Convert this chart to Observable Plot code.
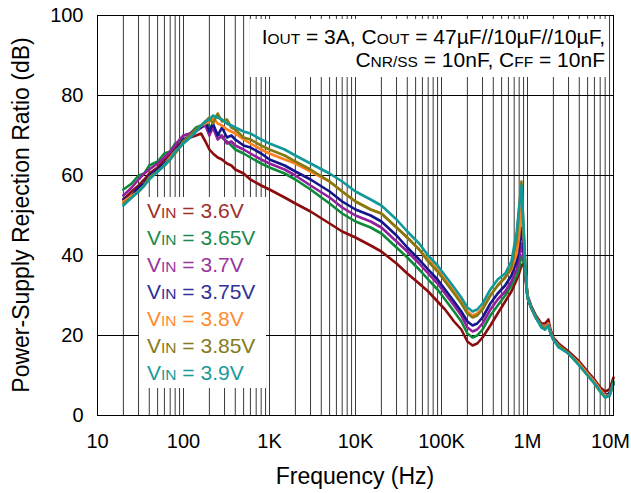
<!DOCTYPE html>
<html>
<head>
<meta charset="utf-8">
<script src="https://cdn.jsdelivr.net/npm/d3@7"></script>
<script src="https://cdn.jsdelivr.net/npm/@observablehq/plot@0.6"></script>
<style>
  html, body { margin: 0; padding: 0; background: #fff; }
  #chart svg { display: block; font-family: Arial, "Liberation Sans", sans-serif; }
</style>
</head>
<body>
<div id="chart"></div>
<script>
// ---- data ----
const freqs = [20, 25, 30, 35, 40, 50, 60, 70, 80, 90, 100, 120, 140, 160, 180, 200, 220, 250, 280, 320, 360, 400, 500, 600, 800, 1000, 1500, 2000, 3000, 5000, 7000, 10000, 15000, 20000, 30000, 40000, 55000, 70000, 90000, 110000, 140000, 170000, 200000, 230000, 260000, 300000, 370000, 450000, 550000, 650000, 750000, 800000, 850000, 900000, 950000, 1000000, 1100000, 1250000, 1450000, 1600000, 1750000, 1850000, 2000000, 2300000, 3000000, 4000000, 5000000, 6000000, 7000000, 8000000, 9000000, 10000000];

const vin360 = [54, 56, 57.5, 59, 60.5, 62, 64, 65.5, 67, 68, 69, 69.5, 70, 70.5, 68.5, 66.5, 65.5, 64.5, 64, 63, 62.5, 61.5, 60.5, 59, 57.5, 56.5, 54.5, 53, 51, 48, 46, 44.5, 42.5, 41, 38, 35.5, 33, 31, 28.5, 26.5, 23.5, 21.5, 18.5, 17.5, 18, 19.5, 22.5, 25.5, 28.5, 31, 34, 35.5, 37.5, 38, 34, 30, 27.5, 25, 23, 23, 24, 21.5, 19.5, 18, 16, 13.5, 11, 9, 7, 6, 6.5, 9.5];
const vin365 = [56.5, 58, 60, 60.5, 62.5, 63.5, 65.5, 66, 68, 68.5, 70, 70.5, 72, 72.5, 73, 72.5, 71.5, 70.5, 69.5, 68.5, 67.5, 66.5, 65.5, 64.5, 63, 62, 60.5, 59, 56.5, 53, 50.5, 48.5, 47, 45.5, 42, 39.5, 36.5, 34, 31.5, 29, 26, 23.5, 20.5, 19.5, 20, 21.5, 25, 27.5, 30, 32.5, 35, 37, 40, 38.5, 34.5, 29.5, 27, 24.5, 22.5, 22, 23, 21, 19, 17.5, 15.5, 13, 10.5, 8.5, 6.5, 5, 5.5, 8.5];
const vin370 = [55, 57, 59, 60.5, 61.5, 63, 64.5, 66, 67.5, 69, 70, 70.5, 71.5, 72, 72.5, 70, 72, 69, 70, 68, 68.5, 67.5, 66.5, 65.5, 64, 63, 61.5, 60, 57.5, 54.5, 52, 50, 48.5, 47, 43.5, 41, 38, 35.5, 33, 30.5, 27.5, 25, 22, 21, 21.5, 23, 26.5, 29, 31, 33.5, 36.5, 39.5, 43, 40, 35, 29.5, 27, 24.5, 22.5, 22, 23, 21, 19, 17.5, 15.5, 13, 10.5, 8.5, 6.5, 5, 5.5, 8];
const vin375 = [54, 55, 57, 58, 60, 61.5, 63, 64.5, 66, 67.5, 69, 70, 71, 72, 73.5, 71, 73, 70, 72, 69.5, 70, 69, 67.5, 67, 65.5, 64, 62.5, 61, 59, 56, 53.5, 51.5, 50, 48.5, 45, 42, 39, 36.5, 34, 31.5, 28.5, 26, 23.5, 22.5, 23, 24.5, 28, 30.5, 32.5, 35, 38.5, 42, 47, 42, 35.5, 29.5, 27, 24.5, 22.5, 22, 23, 21, 19, 17.5, 15.5, 13, 10.5, 8.5, 6.5, 5, 5.5, 8];
const vin380 = [53.5, 55, 56, 57.5, 59.5, 61, 62.5, 64.5, 66, 67, 68.5, 70, 71, 72.5, 73, 73.5, 74.5, 73, 72.5, 71.5, 71, 70.5, 69, 68, 66.5, 65.5, 64, 63, 61, 58.5, 56, 53.5, 51.5, 50.5, 47, 44.5, 41.5, 39, 36.5, 34, 31, 28.5, 26, 25, 25.5, 27, 30, 32.5, 34.5, 36.5, 40.5, 45, 52, 45, 36, 29.5, 27, 24.5, 22.5, 22, 23, 21, 19, 17.5, 15.5, 13, 10.5, 8.5, 6.5, 5, 5, 8];
const vin385 = [53, 54.5, 56, 57.5, 59.5, 61, 62.5, 64, 65.5, 67, 68.5, 70, 71.5, 72.5, 73.5, 74.5, 73, 75.5, 73.5, 74, 72, 71.5, 69.5, 69, 67.5, 66.5, 65, 63.5, 61.5, 58.5, 56, 53.5, 51.5, 50.5, 47, 44.5, 41.5, 38.5, 36, 33.5, 30.5, 28, 25.5, 24.5, 25, 26.5, 30, 32.5, 34.5, 37, 44, 52, 58.5, 47, 36.5, 29.5, 27, 24.5, 22.5, 21.5, 22.5, 20.5, 19, 17.5, 15.5, 12.5, 10, 8, 6, 4.5, 5, 8];
const vin390 = [52.5, 54.5, 56, 57.5, 59, 61, 62.5, 64, 66, 67, 68, 69.5, 71, 72.5, 73.5, 74, 75, 74.5, 74, 73, 72.5, 72, 71, 70.5, 69, 68, 66.5, 65, 63, 60.5, 58.5, 56, 54, 52.5, 49, 46, 43, 40, 37.5, 35, 32, 29.5, 27, 26, 26.5, 28, 31.5, 34, 35.5, 38.5, 46, 52, 57.5, 47, 36, 29.5, 27, 24.5, 22, 21.5, 22.5, 20.5, 19, 17, 15.5, 12.5, 10, 8, 6, 4.5, 5, 8];

const seriesNames = ["3.6V", "3.65V", "3.7V", "3.75V", "3.8V", "3.85V", "3.9V"];
const seriesValues = [vin360, vin365, vin370, vin375, vin380, vin385, vin390];
const seriesColors = ["#8b0d0d", "#0c8a3a", "#921f9c", "#15158c", "#ff7f1e", "#857a10", "#11989a"];
const legendColors = ["#9e3030", "#1a8a50", "#9a35a0", "#30309a", "#ff8a30", "#857a20", "#1a9a9a"];

const xTicks = [10, 100, 1e3, 1e4, 1e5, 1e6, 1e7];
const xTickLabels = ["10", "100", "1K", "10K", "100K", "1M", "10M"];
const yTicks = [0, 20, 40, 60, 80, 100];
const xLabelOf = new Map(xTicks.map((t, i) => [t, xTickLabels[i]]));

// grid frequencies: every 1..9 multiple of each decade
const gridFreqs = [];
for (let e = 1; e < 7; e++) for (let m = 1; m <= 9; m++) gridFreqs.push(m * 10 ** e);

const rows = seriesNames.flatMap((s, i) => freqs.map((f, j) => ({series: s, f, db: seriesValues[i][j]})));

const chart = Plot.plot({
  width: 631,
  height: 493,
  marginLeft: 97,
  marginRight: 18,
  marginTop: 15,
  marginBottom: 78,
  style: {fontFamily: "Arial, 'Liberation Sans', sans-serif", fontSize: "20px", color: "#000", background: "#fff"},
  x: {type: "log", domain: [10, 1e7], label: null},
  y: {domain: [0, 100], label: null},
  color: {domain: seriesNames, range: seriesColors},
  marks: [
    Plot.ruleX(gridFreqs.filter(f => f > 10), {stroke: "#3a3a3a", strokeWidth: 1}),
    Plot.ruleY([20, 40, 60, 80], {stroke: "#000", strokeWidth: 1}),
    Plot.line(rows, {x: "f", y: "db", z: "series", stroke: "series", strokeWidth: 2.6, strokeLinejoin: "round", curve: "linear"}),
    Plot.frame({stroke: "#000", strokeWidth: 1}),
    Plot.axisX({ticks: xTicks, tickSize: 0, tickPadding: 18, tickFormat: d => xLabelOf.get(d) ?? "", fontSize: 20, label: null}),
    Plot.axisY({ticks: yTicks, tickSize: 0, tickPadding: 14, fontSize: 20, label: null})
  ]
});

document.getElementById("chart").appendChild(chart);

const svg = d3.select(chart);
const xs = chart.scale("x"), ys = chart.scale("y");

// keep the last x tick label ("10M") inside the picture
svg.selectAll("text").filter(function () { return this.textContent === "10M"; }).attr("dx", -3);

// axis titles
svg.append("text")
  .attr("x", (xs.apply(10) + xs.apply(1e7)) / 2).attr("y", 484)
  .attr("text-anchor", "middle").attr("font-size", 23).attr("fill", "#000")
  .text("Frequency (Hz)");
svg.append("text")
  .attr("transform", `translate(29,${(ys.apply(0) + ys.apply(100)) / 2}) rotate(-90)`)
  .attr("text-anchor", "middle").attr("font-size", 23).attr("fill", "#000")
  .text("Power-Supply Rejection Ratio (dB)");

// legend box
const lg = svg.append("g").attr("text-anchor", "start");
lg.append("rect").attr("fill", "#fff").attr("x", 139).attr("y", 197).attr("width", 127).attr("height", 191);
seriesNames.forEach((s, i) => {
  const t = lg.append("text").attr("x", 147).attr("y", 218 + i * 27)
    .attr("text-anchor", "start").attr("font-size", 21).attr("fill", legendColors[i]);
  t.append("tspan").text("V");
  t.append("tspan").attr("font-size", 15.5).text("IN");
  t.append("tspan").text(" = " + s);
});

// condition annotation box
const an = svg.append("g");
an.append("rect").attr("fill", "#fff").attr("x", 250).attr("y", 19).attr("width", 358).attr("height", 58);
const l1 = an.append("text").attr("x", 605).attr("y", 44).attr("text-anchor", "end").attr("font-size", 21);
l1.append("tspan").text("I");
l1.append("tspan").attr("font-size", 15.5).text("OUT");
l1.append("tspan").text(" = 3A, C");
l1.append("tspan").attr("font-size", 15.5).text("OUT");
l1.append("tspan").text(" = 47\u00B5F//10\u00B5F//10\u00B5F,");
const l2 = an.append("text").attr("x", 605).attr("y", 67).attr("text-anchor", "end").attr("font-size", 21);
l2.append("tspan").text("C");
l2.append("tspan").attr("font-size", 15.5).text("NR/SS");
l2.append("tspan").text(" = 10nF, C");
l2.append("tspan").attr("font-size", 15.5).text("FF");
l2.append("tspan").text(" = 10nF");
</script>
</body>
</html>
